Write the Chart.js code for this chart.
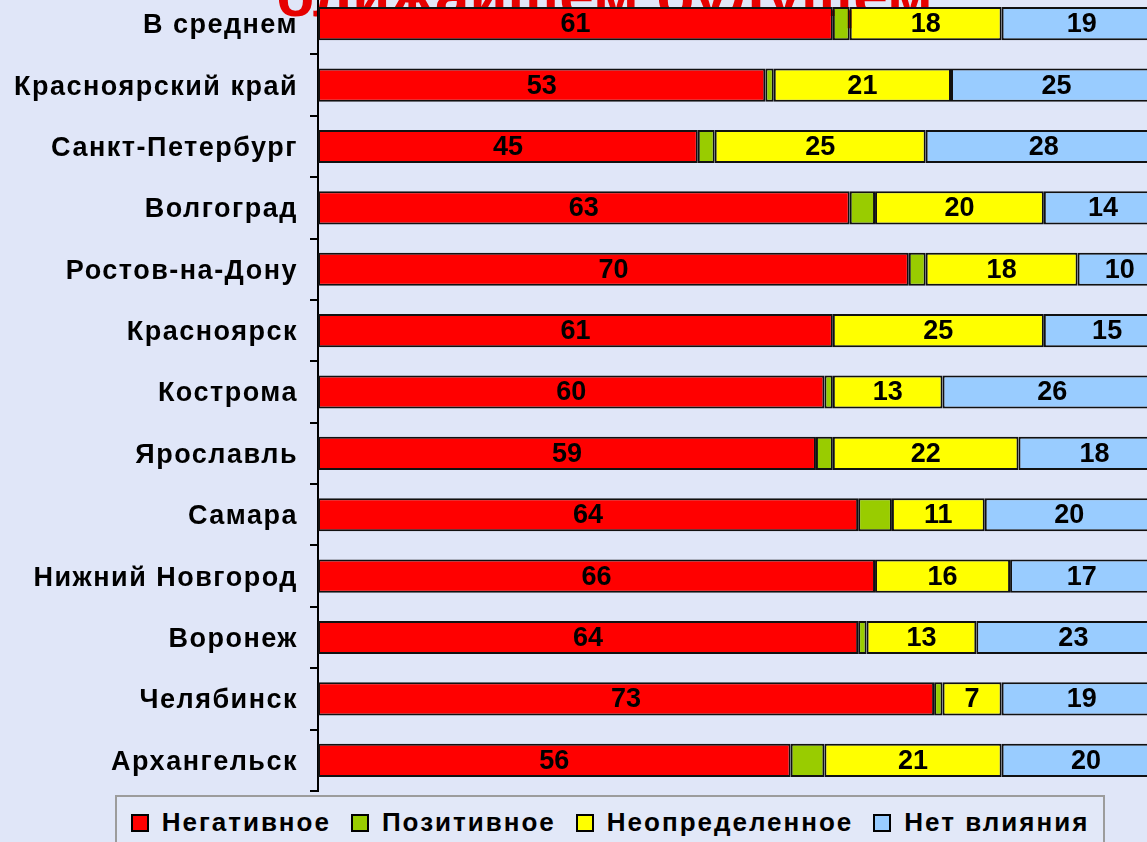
<!DOCTYPE html>
<html lang="ru">
<head>
<meta charset="utf-8">
<title>Влияние по городам</title>
<script src="https://cdn.jsdelivr.net/npm/chart.js@4/dist/chart.umd.min.js"></script>
<style>
  html, body {
    margin: 0;
    padding: 0;
    width: 1147px;
    height: 842px;
    overflow: hidden;
    background: #e0e6f8;
    font-family: "Liberation Sans", Arial, sans-serif;
  }
  .title {
    position: absolute;
    left: 276px;
    top: -36px;
    font-size: 62px;
    line-height: 62px;
    font-weight: bold;
    color: #e60000;
    white-space: nowrap;
    z-index: 0;
  }
  .chart-wrap {
    position: absolute;
    left: 0;
    top: -40px;
    width: 1170px;
    height: 871px;
    z-index: 1;
  }
  .legend {
    position: absolute;
    left: 115px;
    top: 795px;
    width: 990px;
    height: 60px;
    border: 2px solid #9c9c9c;
    background: #e2e8f8;
    display: flex;
    flex-wrap: nowrap;
    justify-content: center;
    align-items: flex-start;
    padding-top: 10px;
    box-sizing: border-box;
    white-space: nowrap;
    z-index: 2;
  }
  .legend span.item {
    display: flex;
    align-items: center;
    flex: none;
    margin: 0 10px;
    font-size: 26px;
    font-weight: bold;
    letter-spacing: 2px;
    color: #000;
  }
  .legend span.box {
    display: inline-block;
    width: 14px;
    height: 14px;
    border: 2px solid #000;
    margin-right: 13px;
  }
</style>
</head>
<body>
<div class="title">ближайшем будущем</div>
<div class="chart-wrap"><canvas id="regionChart"></canvas></div>
<div class="legend" id="legend"></div>
<script>
// categories (top to bottom)
const regions = [
  'В среднем',
  'Красноярский край',
  'Санкт-Петербург',
  'Волгоград',
  'Ростов-на-Дону',
  'Красноярск',
  'Кострома',
  'Ярославль',
  'Самара',
  'Нижний Новгород',
  'Воронеж',
  'Челябинск',
  'Архангельск'
];

// series values, %
const negativeVals = [61, 53, 45, 63, 70, 61, 60, 59, 64, 66, 64, 73, 56];
const positiveVals = [2, 1, 2, 3, 2, 0, 1, 2, 4, 0, 1, 1, 4];
const uncertainVals = [18, 21, 25, 20, 18, 25, 13, 22, 11, 16, 13, 7, 21];
const noEffectVals = [19, 25, 28, 14, 10, 15, 26, 18, 20, 17, 23, 19, 20];

const seriesNames = ['Негативное', 'Позитивное', 'Неопределенное', 'Нет влияния'];
const seriesColors = ['#ff0000', '#99cc00', '#ffff00', '#99ccff'];
const seriesValues = [negativeVals, positiveVals, uncertainVals, noEffectVals];

const fontFamily = '"Liberation Sans", Arial, sans-serif';

// numbers inside the segments
const barLabels = {
  id: 'barLabels',
  afterDatasetsDraw(chart) {
    const ctx = chart.ctx;
    ctx.save();
    ctx.letterSpacing = '0px';
    ctx.font = 'bold 27px ' + fontFamily;
    ctx.fillStyle = '#000';
    ctx.textAlign = 'center';
    ctx.textBaseline = 'middle';
    chart.data.datasets.forEach((ds, di) => {
      chart.getDatasetMeta(di).data.forEach((bar, i) => {
        const v = ds.data[i];
        if (v < 5) return;
        ctx.fillText(String(v), (bar.x + bar.base) / 2, bar.y + 1);
      });
    });
    ctx.restore();
  }
};

// wider spacing for the region names
const spacedText = {
  id: 'spacedText',
  beforeDraw(chart) {
    chart.ctx.letterSpacing = '1.5px';
  }
};

const datasets = seriesNames.map((name, i) => ({
  label: name,
  data: seriesValues[i],
  backgroundColor: seriesColors[i],
  borderColor: '#111',
  borderWidth: 2,
  borderSkipped: false,
  barPercentage: 0.54,
  categoryPercentage: 1
}));

new Chart(document.getElementById('regionChart'), {
  type: 'bar',
  data: {
    labels: regions,
    datasets: datasets
  },
  options: {
    indexAxis: 'y',
    responsive: true,
    maintainAspectRatio: false,
    animation: false,
    layout: {
      padding: { top: 33, bottom: 40, left: 0, right: 8 }
    },
    plugins: {
      legend: { display: false },
      tooltip: { enabled: false }
    },
    scales: {
      x: {
        stacked: true,
        min: 0,
        max: 100,
        display: false
      },
      y: {
        stacked: true,
        afterFit(scale) {
          scale.width = 318;
        },
        grid: {
          drawOnChartArea: false,
          offset: true,
          tickLength: 8,
          color: '#000',
          lineWidth: 2
        },
        border: {
          display: true,
          color: '#000',
          width: 2
        },
        ticks: {
          color: '#000',
          padding: 12,
          labelOffset: 2,
          font: {
            family: fontFamily,
            size: 27,
            weight: 'bold'
          }
        }
      }
    }
  },
  plugins: [spacedText, barLabels]
});

// legend
const legendEl = document.getElementById('legend');
seriesNames.forEach((name, i) => {
  const item = document.createElement('span');
  item.className = 'item';
  const box = document.createElement('span');
  box.className = 'box';
  box.style.background = seriesColors[i];
  item.appendChild(box);
  item.appendChild(document.createTextNode(name));
  legendEl.appendChild(item);
});
</script>
</body>
</html>
